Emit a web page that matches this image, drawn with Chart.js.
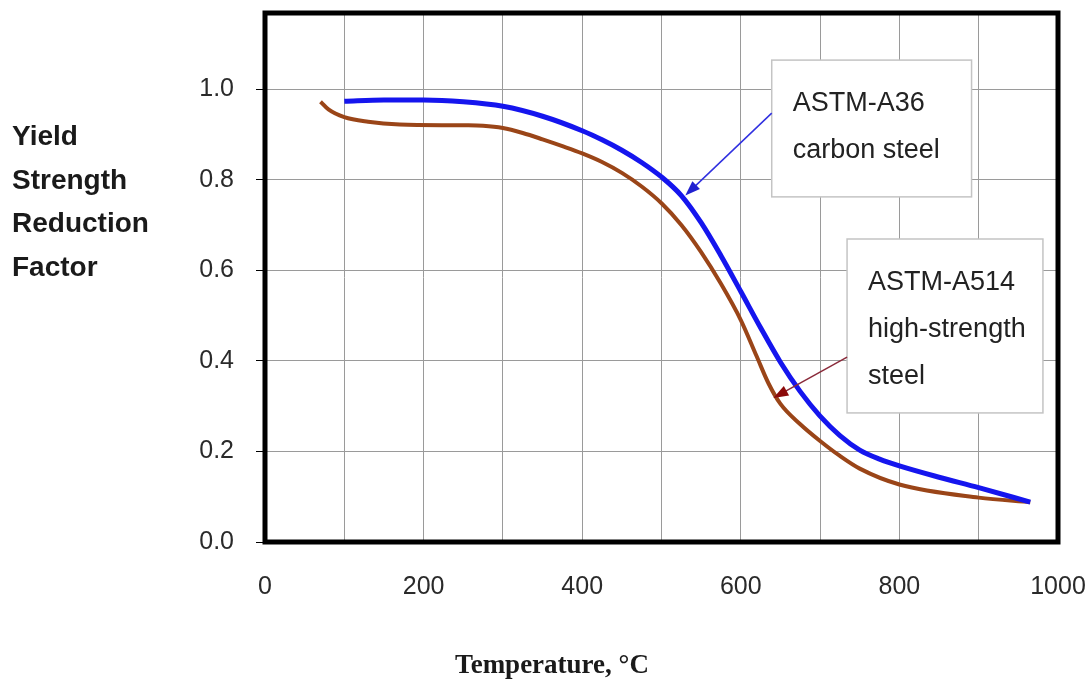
<!DOCTYPE html>
<html>
<head>
<meta charset="utf-8">
<title>Yield Strength Reduction Factor</title>
<script src="https://cdn.jsdelivr.net/npm/chart.js@4.4.0/dist/chart.umd.min.js"></script>
<style>
  html, body { margin: 0; padding: 0; background: #fff; }
  #wrap { width: 1089px; height: 685px; position: relative; }
</style>
</head>
<body>
<div id="wrap"><canvas id="chart" width="1089" height="685"></canvas></div>
<script>
// curve readings (temperature in °C, reduction factor)
const a36Temps  = [100, 150, 200, 250, 300, 350, 400, 425, 450, 475, 500, 525, 550, 575, 600, 625, 650, 675, 700, 725, 750, 775, 800, 850, 900, 965];
const a36Factor = [0.973, 0.976, 0.976, 0.972, 0.962, 0.94, 0.908, 0.888, 0.865, 0.838, 0.806, 0.765, 0.705, 0.632, 0.553, 0.473, 0.397, 0.332, 0.278, 0.235, 0.203, 0.183, 0.168, 0.143, 0.12, 0.088];

const a514Temps  = [70, 80, 100, 130, 170, 250, 275, 300, 325, 350, 375, 400, 425, 450, 475, 500, 525, 550, 575, 600, 620, 635, 650, 675, 700, 725, 750, 800, 900, 965];
const a514Factor = [0.972, 0.955, 0.938, 0.928, 0.922, 0.92, 0.919, 0.914, 0.903, 0.889, 0.874, 0.858, 0.839, 0.815, 0.785, 0.748, 0.70, 0.64, 0.57, 0.49, 0.41, 0.35, 0.305, 0.26, 0.223, 0.19, 0.162, 0.127, 0.098, 0.088];

const xTickLabels = [0, 200, 400, 600, 800, 1000];
const yTickLabels = [0.0, 0.2, 0.4, 0.6, 0.8, 1.0];

const yTitleLines = ['Yield', 'Strength', 'Reduction', 'Factor'];
const xTitle = 'Temperature, °C';

// callout boxes, placed in data units so they follow the scales
const callouts = [
  { lines: ['ASTM-A36', 'carbon steel'], box: [639, 1.064, 891, 0.762],
    from: [639, 0.947], to: [530, 0.765], color: '#3030e0', head: '#2020d0' },
  { lines: ['ASTM-A514', 'high-strength', 'steel'], box: [734, 0.669, 981, 0.285],
    from: [734, 0.408], to: [641, 0.318], color: '#8a2a3a', head: '#8b0a0a' }
];

const toPoints = (xs, ys) => xs.map((x, i) => ({ x, y: ys[i] }));

const decorPlugin = {
  id: 'decor',
  afterDraw(chart) {
    const { ctx, chartArea: area, scales } = chart;
    const sx = scales.x, sy = scales.y;
    ctx.save();

    // callout boxes and arrows
    callouts.forEach(c => {
      const l = sx.getPixelForValue(c.box[0]), t = sy.getPixelForValue(c.box[1]);
      const r = sx.getPixelForValue(c.box[2]), b = sy.getPixelForValue(c.box[3]);
      ctx.fillStyle = '#fff';
      ctx.fillRect(l, t, r - l, b - t);
      ctx.strokeStyle = '#c4c4c4';
      ctx.lineWidth = 1.5;
      ctx.strokeRect(l, t, r - l, b - t);

      ctx.fillStyle = '#222';
      ctx.font = '27px "Liberation Sans", Arial, sans-serif';
      ctx.textAlign = 'left';
      ctx.textBaseline = 'alphabetic';
      c.lines.forEach((txt, i) => ctx.fillText(txt, l + 21, t + 51 + i * 47));

      const x1 = sx.getPixelForValue(c.from[0]), y1 = sy.getPixelForValue(c.from[1]);
      const x2 = sx.getPixelForValue(c.to[0]), y2 = sy.getPixelForValue(c.to[1]);
      const ang = Math.atan2(y2 - y1, x2 - x1);
      ctx.strokeStyle = c.color;
      ctx.lineWidth = 1.5;
      ctx.beginPath();
      ctx.moveTo(x1, y1);
      ctx.lineTo(x2 - 10 * Math.cos(ang), y2 - 10 * Math.sin(ang));
      ctx.stroke();
      ctx.fillStyle = c.head;
      ctx.beginPath();
      ctx.moveTo(x2, y2);
      ctx.lineTo(x2 - 16 * Math.cos(ang - 0.35), y2 - 16 * Math.sin(ang - 0.35));
      ctx.lineTo(x2 - 16 * Math.cos(ang + 0.35), y2 - 16 * Math.sin(ang + 0.35));
      ctx.closePath();
      ctx.fill();
    });

    // heavy frame round the plot
    ctx.strokeStyle = '#000';
    ctx.lineWidth = 5;
    ctx.strokeRect(area.left, area.top, area.right - area.left, area.bottom - area.top);

    // axis titles
    ctx.fillStyle = '#1a1a1a';
    ctx.font = 'bold 28px "Liberation Sans", Arial, sans-serif';
    ctx.textAlign = 'left';
    yTitleLines.forEach((txt, i) => ctx.fillText(txt, 12, 145 + i * 43.5));

    ctx.font = 'bold 27px "Liberation Serif", "Times New Roman", serif';
    ctx.textAlign = 'center';
    ctx.fillText(xTitle, 552, 673);
    ctx.restore();
  }
};

new Chart(document.getElementById('chart'), {
  type: 'scatter',
  data: {
    datasets: [
      {
        label: 'ASTM-A36 carbon steel',
        data: toPoints(a36Temps, a36Factor),
        showLine: true,
        borderColor: '#1515ee',
        borderWidth: 5,
        pointRadius: 0,
        cubicInterpolationMode: 'monotone'
      },
      {
        label: 'ASTM-A514 high-strength steel',
        data: toPoints(a514Temps, a514Factor),
        showLine: true,
        borderColor: '#9a4518',
        borderWidth: 4,
        pointRadius: 0,
        cubicInterpolationMode: 'monotone'
      }
    ]
  },
  options: {
    responsive: false,
    animation: false,
    events: [],
    layout: { padding: { top: 13, right: 31, left: 0, bottom: 0 } },
    plugins: {
      legend: { display: false },
      tooltip: { enabled: false }
    },
    scales: {
      x: {
        type: 'linear',
        min: 0,
        max: 1000,
        border: { display: false },
        grid: { color: '#9a9a9a', lineWidth: 1, drawTicks: false },
        ticks: {
          stepSize: 100,
          padding: 30,
          maxRotation: 0,
          autoSkip: false,
          color: '#2a2a2a',
          font: { family: '"Liberation Sans", Arial, sans-serif', size: 25 },
          callback: v => (xTickLabels.includes(v) ? String(v) : '')
        },
        afterFit: scale => {
          scale.height = 143;
          scale.paddingLeft = 0;
          scale.paddingRight = 0;
        }
      },
      y: {
        type: 'linear',
        min: 0,
        max: 1.168,
        border: { display: false },
        grid: { color: '#9a9a9a', lineWidth: 1, tickLength: 9, tickColor: '#000' },
        afterBuildTicks: scale => {
          scale.ticks = yTickLabels.map(v => ({ value: v }));
        },
        ticks: {
          padding: 22,
          color: '#2a2a2a',
          font: { family: '"Liberation Sans", Arial, sans-serif', size: 25 },
          callback: v => Number(v).toFixed(1)
        },
        afterFit: scale => {
          scale.width = 265;
          scale.paddingTop = 0;
          scale.paddingBottom = 0;
        }
      }
    }
  },
  plugins: [decorPlugin]
});
</script>
</body>
</html>
